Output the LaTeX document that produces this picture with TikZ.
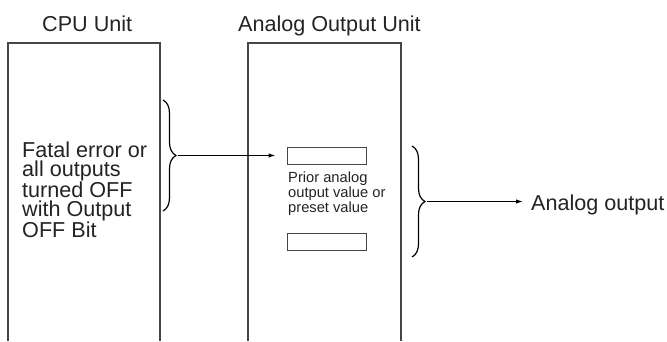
\documentclass[tikz,border=0pt]{standalone}
\usepackage{fontspec}
\setmainfont{Liberation Sans}
\usetikzlibrary{arrows.meta,positioning,decorations.pathreplacing}
\definecolor{unitline}{RGB}{70,70,70}
\definecolor{txtgray}{RGB}{35,35,35}

\begin{document}
\begin{tikzpicture}[x=1pt,y=-1pt,
  unitbox/.style={draw=unitline,line width=1.1pt},
  regbox/.style={draw=unitline,line width=1pt,minimum width=79pt,minimum height=17pt,inner sep=0pt},
  bigtxt/.style={font=\fontsize{21.6}{18.7}\selectfont,text=txtgray,inner sep=0pt,align=left},
  smalltxt/.style={font=\fontsize{14.7}{13.7}\selectfont,text=txtgray,inner sep=0pt,align=left},
  bracer/.style={decorate,decoration={brace,amplitude=13pt},line width=1.2pt,draw=black},
  flow/.style={-{Latex[length=7pt,width=4.5pt]},line width=1.1pt}]
\useasboundingbox (0,0) rectangle (667,341);
% CPU Unit
\draw[unitbox] (8,341) -- (8,43) -- (160,43) -- (160,341);
\node[bigtxt,anchor=base west] (cputitle) at (42,31.7) {CPU Unit};
\node[bigtxt,anchor=north west] (fatal) at (22,142) {Fatal error or\\all outputs\\turned OFF\\with Output\\OFF Bit};
% Analog Output Unit
\draw[unitbox] (248,341) -- (248,43) -- (401,43) -- (401,341);
\node[bigtxt,anchor=base west] (aotitle) at (238,31.7) {Analog Output Unit};
\node[regbox] (reg1) at (326.5,156) {};
\node[regbox] (reg2) at (326.5,242) {};
\node[smalltxt,anchor=north west] (prior) at (288,172) {Prior analog\\output value or\\preset value};
% braces and arrows
\draw[bracer] (163,100) -- (163,211);
\coordinate (ltip) at (178,155.5);
\draw[flow,shorten >=11pt] (ltip) -- (ltip -| reg1.west);
\draw[bracer] (412,146) -- (412,257);
\coordinate (rtip) at (427,201.5);
\node[bigtxt,anchor=base west] (aout) at (531,210) {Analog output};
\draw[flow,shorten >=8pt] (rtip) -- (rtip -| aout.west);
\end{tikzpicture}
\end{document}
